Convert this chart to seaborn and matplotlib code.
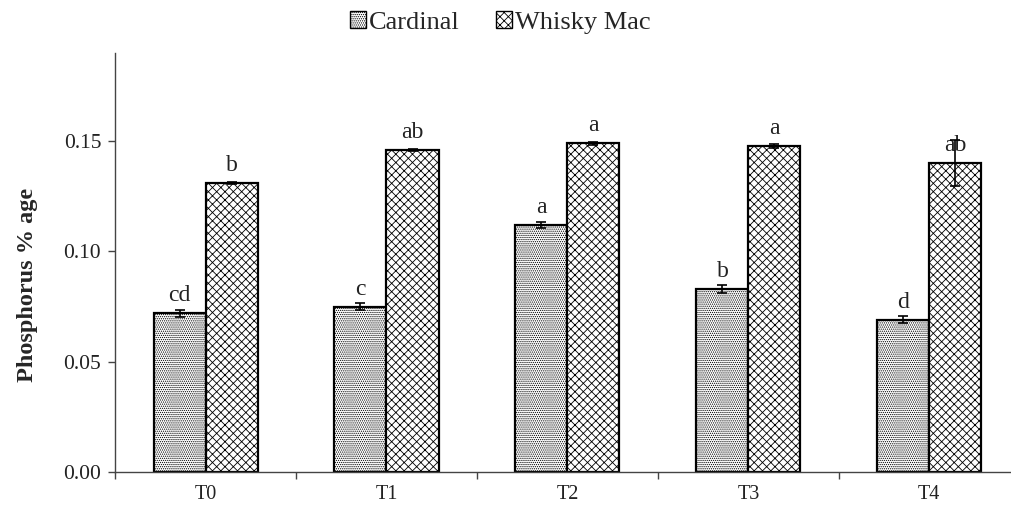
"""Phosphorus % age by treatment for two cultivars, grouped bars with hatching."""
import matplotlib.pyplot as plt
import numpy as np
import pandas as pd
import seaborn as sns
from matplotlib.patches import Patch

treatments = ["T0", "T1", "T2", "T3", "T4"]
cultivars = ["Cardinal", "Whisky Mac"]

cardinal = [0.072, 0.075, 0.112, 0.083, 0.069]
whisky = [0.131, 0.146, 0.149, 0.148, 0.140]
cardinal_err = [0.0016, 0.0016, 0.0012, 0.0016, 0.0016]
whisky_err = [0.0006, 0.0006, 0.0006, 0.0009, 0.0105]
cardinal_letters = ["cd", "c", "a", "b", "d"]
whisky_letters = ["b", "ab", "a", "a", "ab"]

hatches = ["........", "xxxx"]

sns.set_theme(style="white")
plt.rcParams["font.family"] = ["Liberation Serif", "DejaVu Serif"]
plt.rcParams["hatch.linewidth"] = 0.6

df = pd.DataFrame({
    "Treatment": treatments * 2,
    "Cultivar": [cultivars[0]] * 5 + [cultivars[1]] * 5,
    "value": cardinal + whisky,
})

fig = plt.figure(figsize=(10.11, 5.05), dpi=100)
ax = fig.add_axes([0.1138, 0.0653, 0.886, 0.8297])

sns.barplot(data=df, x="Treatment", y="value", hue="Cultivar", order=treatments,
            hue_order=cultivars, width=0.575, errorbar=None,
            palette=["white", "white"], edgecolor="black", linewidth=1.6,
            legend=False, ax=ax)

errs = [cardinal_err, whisky_err]
letters = [cardinal_letters, whisky_letters]
vals = [cardinal, whisky]
bar_groups = list(ax.containers)
for i, cont in enumerate(bar_groups):
    xs = []
    for bar in cont:
        bar.set_hatch(hatches[i])
        xs.append(bar.get_x() + bar.get_width() / 2)
    ax.errorbar(xs, vals[i], yerr=errs[i], fmt="none", ecolor="black",
                elinewidth=1.2, capsize=3.5, capthick=1.2, zorder=5)
    for x, v, lab in zip(xs, vals[i], letters[i]):
        ax.annotate(lab, (x, v), xytext=(0, 5), textcoords="offset points",
                    ha="center", va="bottom", fontsize=17, color="#222222")

ax.set_xlim(-0.5, 4.45)
ax.set_ylim(0, 0.19)
ax.set_yticks([0.0, 0.05, 0.10, 0.15])
ax.set_yticklabels(["0.00", "0.05", "0.10", "0.15"])
ax.set_xticks(range(len(treatments)))
ax.set_xticklabels(treatments)
ax.set_xticks([-0.5, 0.5, 1.5, 2.5, 3.5], minor=True)
ax.tick_params(axis="x", which="major", length=0, pad=9, labelsize=14.5, colors="#222222")
ax.tick_params(axis="x", which="minor", length=5, width=1, color="#444444", bottom=True, direction="out")
ax.tick_params(axis="y", length=5, width=1, color="#444444", left=True, direction="out",
               labelsize=15.5, colors="#222222", pad=5)

ax.set_xlabel("")
ax.set_ylabel("Phosphorus % age", fontsize=17.5, fontweight="bold")
ax.yaxis.set_label_coords(-0.086, 0.446)

for side in ["top", "right"]:
    ax.spines[side].set_visible(False)
for side in ["left", "bottom"]:
    ax.spines[side].set_color("#444444")
    ax.spines[side].set_linewidth(1)

handles = [Patch(facecolor="white", edgecolor="black", hatch=h, label=c)
           for h, c in zip(hatches, cultivars)]
fig.legend(handles=handles, loc="upper center", bbox_to_anchor=(0.495, 1.025), ncol=2,
           frameon=False, fontsize=19, handlelength=0.6, handleheight=0.6,
           handletextpad=0.1, columnspacing=1.4)

fig.savefig("out.png", dpi=100)
